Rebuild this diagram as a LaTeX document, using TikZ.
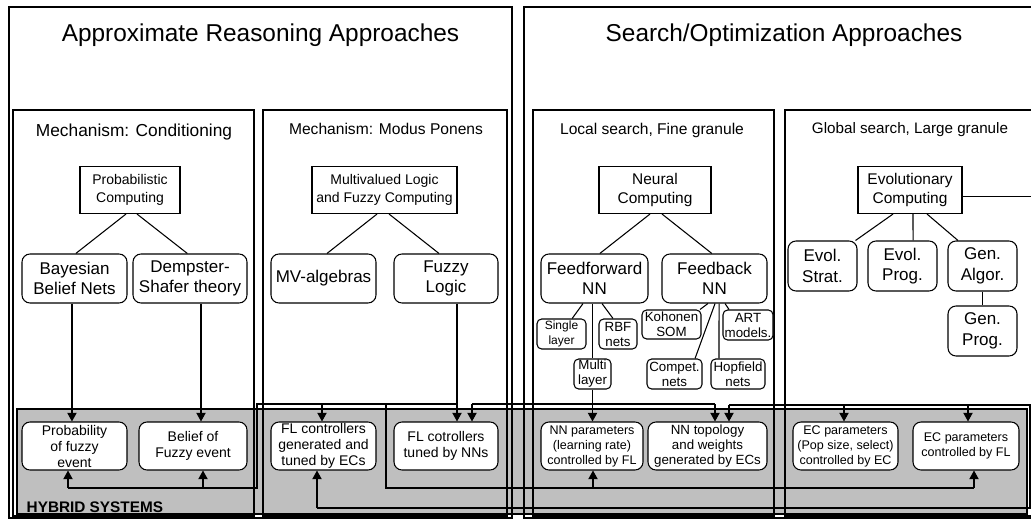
\documentclass[tikz,border=0pt]{standalone}
\usepackage{fontspec}
\setmainfont{Liberation Sans}
\usetikzlibrary{arrows.meta}

\tikzset{
  frame/.style = {draw, line width=0.8pt},
  topbox/.style = {draw, fill=white, line width=0.8pt, inner sep=0pt, align=center,
    minimum height=35.25pt, font=\fontsize{10.5}{14}\selectfont},
  subbox/.style = {draw, fill=white, rounded corners=6pt, line width=0.8pt, inner sep=0pt,
    align=center, minimum height=36.75pt, font=\fontsize{12.75}{15.5}\selectfont},
  leafbox/.style = {draw, fill=white, rounded corners=3.5pt, line width=0.8pt, inner sep=0pt,
    align=center, minimum height=22.5pt, font=\fontsize{10}{11.25}\selectfont},
  hybbox/.style = {draw, fill=white, rounded corners=6pt, line width=0.8pt, inner sep=0pt,
    align=center, minimum height=36pt, font=\fontsize{10.5}{12}\selectfont},
  small/.style = {font=\fontsize{9.4}{11.25}\selectfont},
  link/.style = {line width=0.8pt},
  feed/.style = {line width=0.8pt, -{Triangle[length=6.5pt,width=7pt]}}
}

\begin{document}
\begin{tikzpicture}[x=0.75pt, y=-0.75pt]
\useasboundingbox (0,0) rectangle (1031,520);
\clip (0,0) rectangle (1031,520);

% hybrid band
\draw[fill=black!25, line width=2pt] (17,409) rectangle (1027,514);

% frames
\draw[frame] (9,7) rectangle (512,518);
\draw[frame] (524,7) rectangle (1044,518);
\draw[frame] (13,110) rectangle (254,516);
\draw[frame] (263,110) rectangle (507,516);
\draw[frame] (533,110) rectangle (774,516);
\draw[frame] (785,110) rectangle (1036,516);

\node[font=\fontsize{18.3}{22}\selectfont] (artitle) at (260.5,35) {Approximate Reasoning Approaches};
\node[font=\fontsize{18.3}{22}\selectfont] (sotitle) at (784,35) {Search/Optimization Approaches};
\node[font=\fontsize{13}{15}\selectfont] (condtitle) at (134,132) {Mechanism: Conditioning};
\node[font=\fontsize{11.7}{14}\selectfont] (mptitle) at (386,129) {Mechanism: Modus Ponens};
\node[font=\fontsize{11.7}{14}\selectfont] (loctitle) at (652,130) {Local search, Fine granule};
\node[font=\fontsize{11.4}{14}\selectfont] (globtitle) at (910,130) {Global search, Large granule};
\node[font=\bfseries\fontsize{11.5}{14}\selectfont, anchor=base west] (hybtitle) at (22,512) {HYBRID SYSTEMS};

% approximate reasoning
\node[topbox, minimum width=75pt] (prob) at (130,190) {Probabilistic\\Computing};
\node[subbox, minimum width=78.75pt] (bbn) at (74.5,278.5) {Bayesian\\Belief Nets};
\node[subbox, minimum width=85.5pt] (dst) at (190,278.5) {Dempster-\\Shafer theory};
\node[topbox, minimum width=108.75pt] (mvl) at (384.5,190) {Multivalued Logic\\and Fuzzy Computing};
\node[subbox, minimum width=78.75pt] (mva) at (323.5,278.5) {MV-algebras};
\node[subbox, minimum width=78pt] (fzl) at (446,278.5) {Fuzzy\\Logic};

% search / optimization
\node[topbox, minimum width=84pt, font=\fontsize{11.6}{14.5}\selectfont] (nc) at (655,190) {Neural\\Computing};
\node[subbox, minimum width=80.25pt] (ffnn) at (594.5,278.5) {Feedforward\\NN};
\node[subbox, minimum width=78.75pt] (fbnn) at (714.5,278.5) {Feedback\\NN};
\node[leafbox, minimum width=36.75pt, font=\fontsize{9}{11}\selectfont] (single) at (561.5,334) {Single\\layer};
\node[leafbox, minimum width=28.5pt] (rbf) at (618,334) {RBF\\nets};
\node[leafbox, minimum width=27.75pt] (multi) at (592.5,374) {Multi\\layer};
\node[leafbox, minimum width=44.25pt, minimum height=21.75pt] (koh) at (671.5,324.5) {Kohonen\\SOM};
\node[leafbox, minimum width=37.5pt] (art) at (748,325) {ART\\models.};
\node[leafbox, minimum width=41.25pt] (comp) at (674.5,374) {Compet.\\nets};
\node[leafbox, minimum width=40.5pt] (hop) at (738,374) {Hopfield\\nets};

\node[topbox, minimum width=78pt, font=\fontsize{11.6}{14.5}\selectfont] (ec) at (910,190) {Evolutionary\\Computing};
\node[subbox, minimum width=51.75pt, minimum height=37.5pt] (es) at (822.5,266) {Evol.\\Strat.};
\node[subbox, minimum width=51.75pt, minimum height=37.5pt] (ep) at (902.5,266) {Evol.\\Prog.};
\node[subbox, minimum width=51.75pt, minimum height=37.5pt] (ga) at (982.5,266) {Gen.\\Algor.};
\node[subbox, minimum width=51.75pt, minimum height=37.5pt] (gp) at (982.5,331) {Gen.\\Prog.};

% hybrid systems
\node[hybbox, minimum width=78.75pt] (h1) at (74.5,446) {Probability\\of fuzzy\\event};
\node[hybbox, minimum width=81pt] (h2) at (193,446) {Belief of\\Fuzzy event};
\node[hybbox, minimum width=78.75pt] (h3) at (323.5,446) {FL controllers\\generated and\\tuned by ECs};
\node[hybbox, minimum width=78pt] (h4) at (446,446) {FL cotrollers\\tuned by NNs};
\node[hybbox, small, minimum width=76.5pt] (h5) at (592,446) {NN parameters\\(learning rate)\\controlled by FL};
\node[hybbox, minimum width=89.25pt, font=\fontsize{10}{11.25}\selectfont] (h6) at (707.5,446) {NN topology\\and weights\\generated by ECs};
\node[hybbox, small, minimum width=78.75pt] (h7) at (845.5,446) {EC parameters\\(Pop size, select)\\controlled by EC};
\node[hybbox, small, minimum width=79.5pt] (h8) at (966,446) {EC parameters\\controlled by FL};

% trees
\draw[link] ([xshift=-3pt]prob.south) -- ([xshift=1pt]bbn.north);
\draw[link] ([xshift=5.25pt]prob.south) -- ([xshift=-2pt]dst.north);
\draw[link] ([xshift=-5.6pt]mvl.south) -- ([xshift=2.6pt]mva.north);
\draw[link] ([xshift=3.4pt]mvl.south) -- ([xshift=-5.25pt]fzl.north);
\draw[link] ([xshift=-3.75pt]nc.south) -- ([xshift=4pt]ffnn.north);
\draw[link] ([xshift=5.25pt]nc.south) -- ([xshift=-2pt]fbnn.north);
\draw[link] ([xshift=-8.6pt]ffnn.south) -- ([xshift=8pt]single.north);
\draw[link] ([xshift=5.6pt]ffnn.south) -- ([xshift=-3.75pt]rbf.north);
\draw[link] ([xshift=-4.9pt]fbnn.south) -- ([xshift=21.4pt]koh.north);
\draw[link] ([xshift=0.4pt]fbnn.south) -- ([xshift=15.4pt]comp.north);
\draw[link] ([xshift=3.4pt]fbnn.south) -- ([xshift=-14.25pt]hop.north);
\draw[link] ([xshift=7.9pt]fbnn.south) -- ([xshift=-14.25pt]art.north);
\draw[link] ([xshift=-12.75pt]ec.south) -- ([xshift=-1.5pt]es.north east);
\draw[link] ([xshift=2.25pt]ec.south) -- ([xshift=7.9pt]ep.north);
\draw[link] ([xshift=12.75pt]ec.south) -- ([xshift=-18.4pt]ga.north);
\draw[link] (ga) -- (gp);

% into the hybrids from above
\draw[feed] ([xshift=-1.9pt]bbn.south) -- ([xshift=-1.9pt]h1.north);
\draw[feed] ([xshift=8.25pt]dst.south) -- ([xshift=6pt]h2.north);
\draw[feed] ([xshift=8.25pt]fzl.south) -- ([xshift=8.25pt]h4.north);
\draw[link] (ffnn.south -| multi) -- (multi);
\draw[feed] (multi) -- (multi |- h5.north);

% fuzzy logic bus
\coordinate (fla) at (457,404);
\coordinate (flb) at (386,404);
\coordinate (flc) at (322,404);
\coordinate (fld) at (257,404);
\coordinate (fle) at (257,488);
\coordinate (flf) at (203,488);
\coordinate (flg) at (68,488);
\coordinate (flh) at (386,488);
\coordinate (fli) at (593,488);
\coordinate (flj) at (974,488);
\draw[link] (fla) -- (fld) -- (fle) -- (flg);
\draw[link] (flb) -- (flh) -- (flj);
\draw[feed] (flc) -- (flc |- h3.north);
\draw[feed] (flf) -- (flf |- h2.south);
\draw[feed] (flg) -- (flg |- h1.south);
\draw[feed] (fli) -- (fli |- h5.south);
\draw[feed] (flj) -- (flj |- h8.south);

% neural bus
\coordinate (nna) at (472,404);
\coordinate (nnc) at (715,404);
\draw[link] (nna) -- (nnc);
\draw[feed] (nna) -- (nna |- h4.north);
\draw[feed] (nnc) -- (nnc |- h6.north);

% evolutionary bus
\coordinate (ecb) at (1045,405);
\coordinate (ecc) at (968,405);
\coordinate (ecd) at (844,405);
\coordinate (ece) at (729,405);
\coordinate (ecf) at (1030,405);
\coordinate (ecg) at (1030,508);
\coordinate (ech) at (317,508);
\draw[link] ([yshift=-4.9pt]ec.east) -| (ecb) -- (ece);
\draw[link] (ecf) -- (ecg) -- (ech);
\draw[feed] (ecc) -- (ecc |- h8.north);
\draw[feed] (ecd) -- (ecd |- h7.north);
\draw[feed] (ece) -- (ece |- h6.north);
\draw[feed] (ech) -- (ech |- h3.south);

\end{tikzpicture}
\end{document}
